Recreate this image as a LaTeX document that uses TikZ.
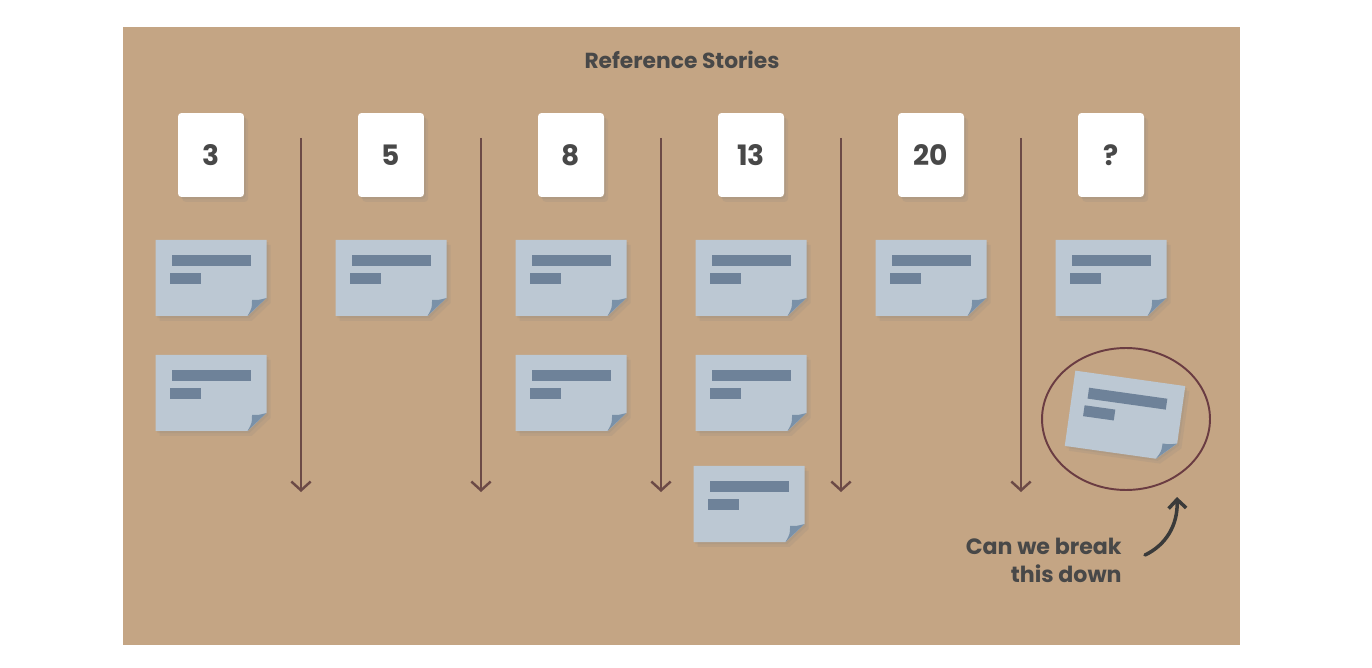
\documentclass[tikz,border=0pt]{standalone}
\usepackage{fontspec}
\setmainfont{Poppins}
\usetikzlibrary{arrows.meta,shadows,shapes.geometric}

\definecolor{board}{RGB}{196,165,132}
\definecolor{notefill}{RGB}{188,200,211}
\definecolor{notebar}{RGB}{110,130,153}
\definecolor{notefold}{RGB}{122,145,168}
\definecolor{linebrown}{RGB}{108,74,70}
\definecolor{ringbrown}{RGB}{106,60,66}
\definecolor{inkgray}{RGB}{72,72,72}

\tikzset{
  softshadow/.style={
    drop shadow={shadow xshift=1pt, shadow yshift=-1.2pt, opacity=.16},
    drop shadow={shadow xshift=2.4pt, shadow yshift=-2.8pt, opacity=.14}},
  numcard/.style={rectangle, rounded corners=2pt, fill=white, inner sep=0pt,
    minimum width=1.32cm, minimum height=1.68cm, text=inkgray,
    font=\fontsize{16}{16}\selectfont\bfseries, softshadow},
  sortline/.style={draw=linebrown, line width=1.4pt,
    -{Straight Barb[length=5pt,width=11pt]}},
  note/.pic={
    \path[fill=notefill, softshadow]
      (-55.5,-38) -- (55.5,-38) -- (55.5,20) -- (36.5,38) -- (-55.5,38) -- cycle;
    \fill[notefold] (55.5,20) .. controls (48,22) .. (41,22) .. controls (41,30) .. (36.5,38) -- cycle;
    \fill[notebar] (-39.5,-23) rectangle (39.5,-12);
    \fill[notebar] (-41.5,-5) rectangle (-10.5,6);
  }
}

\begin{document}
\begin{tikzpicture}[x=0.02cm, y=-0.02cm]
    \useasboundingbox (0,0) rectangle (1372,668);
    \fill[board] (123,27) rectangle (1240,645);

    %%title
    \node[text=inkgray, font=\fontsize{12.4}{12.4}\selectfont\bfseries] (title) at (682,60) {Reference Stories};

    %%cards
    \node[numcard] (c3) at (211,155) {3};
    \node[numcard] (c5) at (391,155) {5};
    \node[numcard] (c8) at (571,155) {8};
    \node[numcard] (c13) at (751,155) {13};
    \node[numcard] (c20) at (931,155) {20};
    \node[numcard] (cq) at (1111,155) {?};

    %%notes
    \pic (n3a) at (211,278) {note};
    \pic (n3b) at (211,393) {note};
    \pic (n5a) at (391,278) {note};
    \pic (n8a) at (571,278) {note};
    \pic (n8b) at (571,393) {note};
    \pic (n13a) at (751,278) {note};
    \pic (n13b) at (751,393) {note};
    \pic (n13c) at (749,504) {note};
    \pic (n20a) at (931,278) {note};
    \pic (nqa) at (1111,278) {note};
    \pic[rotate=-8] (nqb) at (1125,416) {note};

    %%dividers
    \coordinate (t1) at (301,138); \coordinate (b1) at (301,492);
    \coordinate (t2) at (481,138); \coordinate (b2) at (481,492);
    \coordinate (t3) at (661,138); \coordinate (b3) at (661,492);
    \coordinate (t4) at (841,138); \coordinate (b4) at (841,492);
    \coordinate (t5) at (1021,138); \coordinate (b5) at (1021,492);
    \draw[sortline] (t1) to (b1);
    \draw[sortline] (t2) to (b2);
    \draw[sortline] (t3) to (b3);
    \draw[sortline] (t4) to (b4);
    \draw[sortline] (t5) to (b5);

    %%ring and remark
    \node[ellipse, draw=ringbrown, line width=1.1pt, inner sep=0pt,
      minimum width=3.36cm, minimum height=2.84cm] (ring) at (1126,419) {};
    \node[anchor=east, align=right, text=inkgray, inner sep=0pt,
      font=\fontsize{12.6}{16}\selectfont\bfseries] (remark) at (1122,560) {Can we break\\this down};
    \coordinate (hookstart) at (1145,555);
    \coordinate (hookend) at (1177,497);
    \draw[draw=inkgray!80!black, line width=2pt, line cap=round,
      -{Straight Barb[length=5pt,width=10pt]}]
      (hookstart) .. controls (1166,545) and (1178,525) .. (hookend);
\end{tikzpicture}
\end{document}
